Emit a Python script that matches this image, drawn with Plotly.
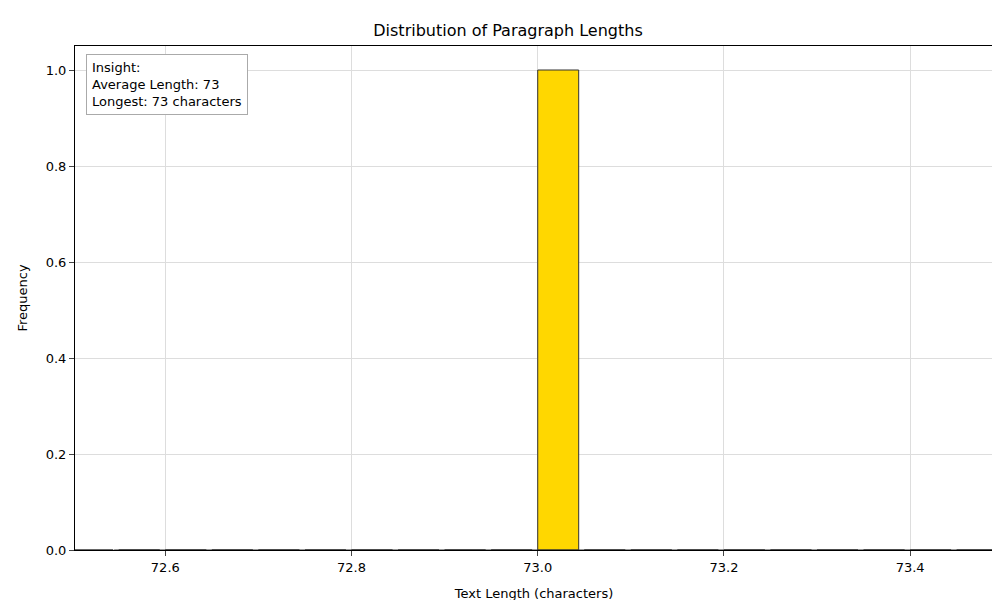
import plotly.graph_objects as go

bin_starts = [72.5 + 0.05 * i for i in range(20)]
counts = [0]*10 + [1] + [0]*9
x_ticks = [72.6, 72.8, 73.0, 73.2, 73.4]
y_ticks = [0.0, 0.2, 0.4, 0.6, 0.8, 1.0]

fig = go.Figure()
fig.add_trace(go.Bar(x=[b + 0.022 for b in bin_starts], y=counts, width=0.044,
                     marker=dict(color="#FFD700", line=dict(color="#333333", width=1))))
fig.add_trace(go.Scatter(x=[bin_starts[0]+0.045, bin_starts[-1]+0.045], y=[0, 0], mode="lines",
                         line=dict(color="#333333", width=1), hoverinfo="skip"))
fig.update_layout(
    width=1000, height=600, plot_bgcolor="white", paper_bgcolor="white",
    margin=dict(l=67, r=15, t=38, b=58, autoexpand=False), showlegend=False,
    font=dict(family="DejaVu Sans", size=13, color="black"),
    title=dict(text="Distribution of Paragraph Lengths", x=0.5, xanchor="center", y=0.962, yanchor="middle", font=dict(size=16)),
    xaxis=dict(range=[72.503, 73.489], tickvals=x_ticks, ticktext=[f"{v:.1f}" for v in x_ticks], automargin=False,
               showgrid=True, gridcolor="#dddddd", showline=True, linecolor="black", mirror=True,
               ticks="outside", zeroline=False, title=dict(text="Text Length (characters)", font=dict(size=13))),
    yaxis=dict(range=[0, 1.05], tickvals=y_ticks, ticktext=[f"{v:.1f}" for v in y_ticks], automargin=False,
               showgrid=True, gridcolor="#dddddd", showline=True, linecolor="black", mirror=True,
               ticks="outside", zeroline=False, title=dict(text="Frequency", font=dict(size=13))),
    annotations=[dict(xref="paper", yref="paper", x=0.012, y=0.985, xanchor="left", yanchor="top",
                      text="Insight:<br>Average Length: 73<br>Longest: 73 characters", align="left",
                      showarrow=False, bordercolor="#aaaaaa", borderwidth=1, borderpad=5,
                      bgcolor="white", font=dict(size=13))],
)
fig.write_html("out.html")
